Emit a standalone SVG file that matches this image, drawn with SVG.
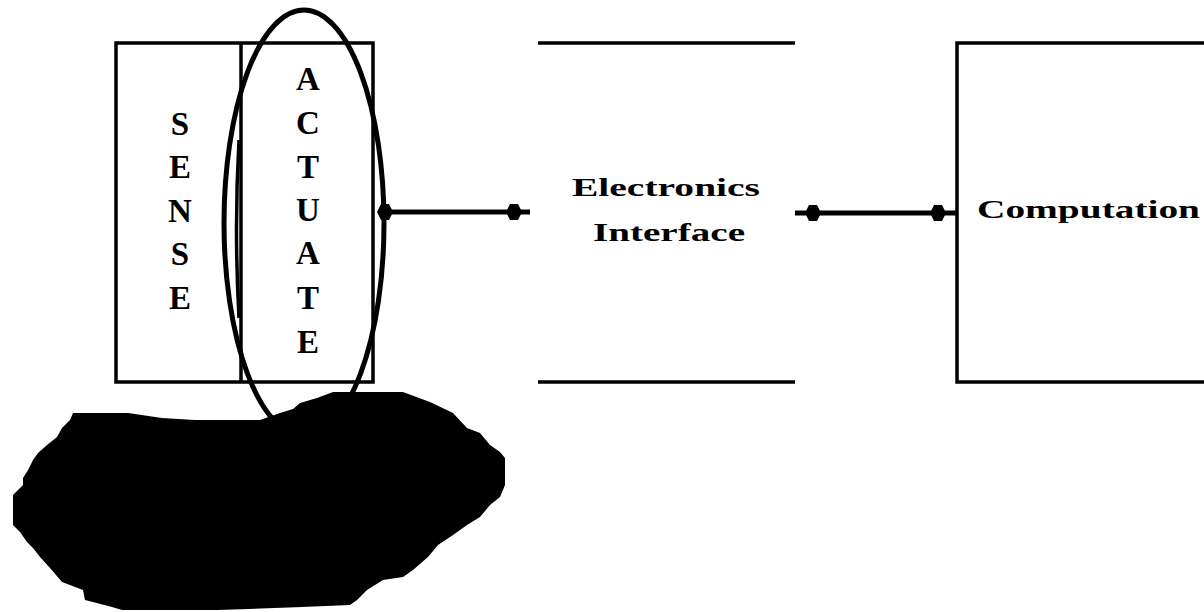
<svg xmlns="http://www.w3.org/2000/svg" xmlns:xlink="http://www.w3.org/1999/xlink" width="1204" height="612" viewBox="0 0 1204 612">
  <style>
    .edge { fill: none; stroke: #000; stroke-width: 3.5; }
    .ring { fill: none; stroke: #000; stroke-width: 5; }
    .wire { stroke: #000; stroke-width: 5; fill: none; }
    .vlet { font-family: "Liberation Serif", "Times New Roman", serif; font-weight: bold; font-size: 33px; fill: #000; text-anchor: middle; }
    .hlab { font-family: "Liberation Serif", "Times New Roman", serif; font-weight: bold; font-size: 25px; fill: #000; }
  </style>
  <defs>
    <!-- small pointed blob used as arrow tip -->
    <path id="tip" d="M -8 0 L -4 -8 L 4 -8 L 8 0 L 4 8 L -4 8 Z" fill="#000"/>
  </defs>

  <rect width="1204" height="612" fill="#fff"/>

  <!-- object being sensed / actuated -->
  <g id="object">
    <polygon fill="#000" points="73,413 128,413 162,418 195,420 260,420 280,413 293,409 300,403 317,398 333,392 403,392 430,402 453,413 467,428 480,433 490,445 500,452 505,458 505,485 500,497 490,505 480,517 467,525 453,535 438,545 428,557 413,570 403,577 383,580 367,590 357,600 350,605 302,607 218,610 122,610 112,607 85,600 83,590 62,582 50,568 40,557 33,548 27,542 20,532 13,525 13,495 23,485 23,478 28,470 33,460 38,453 47,445 57,437 62,428 70,420"/>
  </g>

  <!-- sense / actuate transducer -->
  <g id="transducer">
    <rect class="edge" x="116" y="43" width="257" height="339"/>
    <line class="edge" x1="241" y1="43" x2="241" y2="382"/>
    <text class="vlet" x="180" y="135">S</text>
    <text class="vlet" x="180" y="178">E</text>
    <text class="vlet" x="180" y="222">N</text>
    <text class="vlet" x="180" y="265">S</text>
    <text class="vlet" x="180" y="309">E</text>
    <text class="vlet" x="308" y="90">A</text>
    <text class="vlet" x="308" y="134">C</text>
    <text class="vlet" x="308" y="178">T</text>
    <text class="vlet" x="308" y="221">U</text>
    <text class="vlet" x="308" y="264">A</text>
    <text class="vlet" x="308" y="309">T</text>
    <text class="vlet" x="308" y="353">E</text>
  </g>

  <!-- highlight ring round the actuator column, with its doubled left stroke -->
  <g id="actuate-ring">
    <ellipse class="ring" cx="304" cy="223" rx="80" ry="213"/>
    <path class="edge" d="M 239 140 Q 234 228 239 318"/>
  </g>

  <!-- electronics interface -->
  <g id="electronics">
    <line class="edge" x1="538" y1="43" x2="795" y2="43"/>
    <line class="edge" x1="538" y1="382" x2="795" y2="382"/>
    <text class="hlab" x="572" y="196" textLength="188" lengthAdjust="spacingAndGlyphs">Electronics</text>
    <text class="hlab" x="593" y="241" textLength="152" lengthAdjust="spacingAndGlyphs">Interface</text>
  </g>

  <!-- computation -->
  <g id="computation">
    <polyline class="edge" points="1204,43 957,43 957,382 1204,382"/>
    <text class="hlab" x="977" y="218" textLength="223" lengthAdjust="spacingAndGlyphs">Computation</text>
  </g>

  <!-- two-way links -->
  <g id="connectors">
    <line class="wire" x1="378" y1="212" x2="530" y2="212"/>
    <use xlink:href="#tip" x="385" y="212"/>
    <use xlink:href="#tip" x="514" y="212"/>
    <line class="wire" x1="795" y1="213" x2="957" y2="213"/>
    <use xlink:href="#tip" x="813" y="213"/>
    <use xlink:href="#tip" x="938" y="213"/>
  </g>
</svg>
